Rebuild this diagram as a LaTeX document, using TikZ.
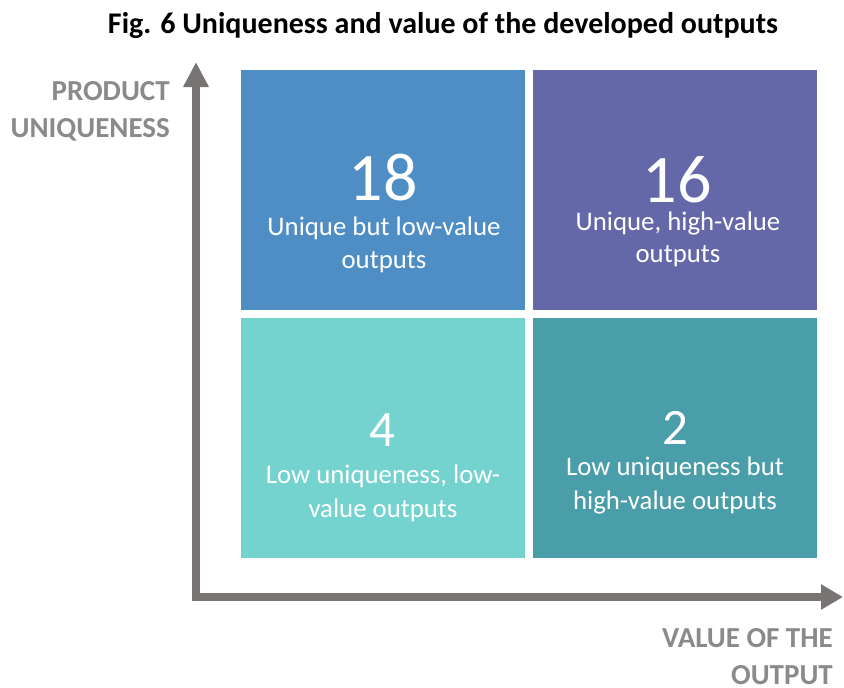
\documentclass[tikz,border=0pt]{standalone}
\usepackage{fontspec}
\setmainfont{Carlito}
\usetikzlibrary{arrows.meta}
\definecolor{cTL}{HTML}{4F8EC5}
\definecolor{cTR}{HTML}{6468A8}
\definecolor{cBL}{HTML}{74D3CE}
\definecolor{cBR}{HTML}{4A9EA9}
\definecolor{axisgray}{HTML}{787474}
\definecolor{labelgray}{HTML}{8A8A8A}
\tikzset{
  quad/.style={inner sep=0pt, outer sep=0pt, minimum width=284pt, minimum height=240pt, anchor=north west, draw=none},
  bignum/.style={text=white, inner sep=0pt, anchor=base, font=\fontsize{68}{72}\selectfont},
  smallnum/.style={text=white, inner sep=0pt, anchor=base, font=\fontsize{51}{54}\selectfont},
  qtext/.style={text=white, inner sep=0pt, anchor=base, font=\fontsize{26.8}{30}\selectfont},
  axlabel/.style={text=labelgray, inner sep=0pt, anchor=base east, font=\fontsize{29}{32}\selectfont\bfseries},
  axisline/.style={draw=axisgray, line width=8pt, line cap=butt},
}
\begin{document}
\begin{tikzpicture}[x=1pt, y=-1pt]
\useasboundingbox (0,0) rectangle (844,688);
% title
\node[inner sep=0pt, anchor=base, font=\fontsize{30}{34}\selectfont\bfseries] (title) at (443,34) {Fig. 6 Uniqueness and value of the developed outputs};
% quadrants
\node[quad, fill=cTL] (tl) at (241,70) {};
\node[quad, fill=cTR] (tr) at (533,70) {};
\node[quad, fill=cBL] (bl) at (241,318) {};
\node[quad, fill=cBR] (br) at (533,318) {};
% numbers
\node[bignum] (ntl) at (383,200) {18};
\node[bignum] (ntr) at (677,202) {16};
\node[smallnum] (nbl) at (382,446) {4};
\node[smallnum] (nbr) at (675,444) {2};
% quadrant texts
\node[qtext] (tla) at (384,235) {Unique but low-value};
\node[qtext] (tlb) at (384,268) {outputs};
\node[qtext] (tra) at (678,230) {Unique, high-value};
\node[qtext] (trb) at (678,262) {outputs};
\node[qtext] (bla) at (383,483) {Low uniqueness, low-};
\node[qtext] (blb) at (383,517) {value outputs};
\node[qtext] (bra) at (675,475) {Low uniqueness but};
\node[qtext] (brb) at (675,509) {high-value outputs};
% axes
\coordinate (vbot) at (196,601);
\coordinate (vtop) at (196,62);
\coordinate (hleft) at (192,597);
\coordinate (hright) at (843,597);
\draw[axisline, -{Triangle[width=24pt, length=25pt]}] (vbot) -- (vtop);
\draw[axisline, -{Triangle[width=24pt, length=22pt]}] (hleft) -- (hright);
% axis labels
\node[axlabel] (ya) at (170,100) {PRODUCT};
\node[axlabel] (yb) at (170,137) {UNIQUENESS};
\node[axlabel] (xa) at (833,647) {VALUE OF THE};
\node[axlabel] (xb) at (833,684) {OUTPUT};
\end{tikzpicture}
\end{document}
